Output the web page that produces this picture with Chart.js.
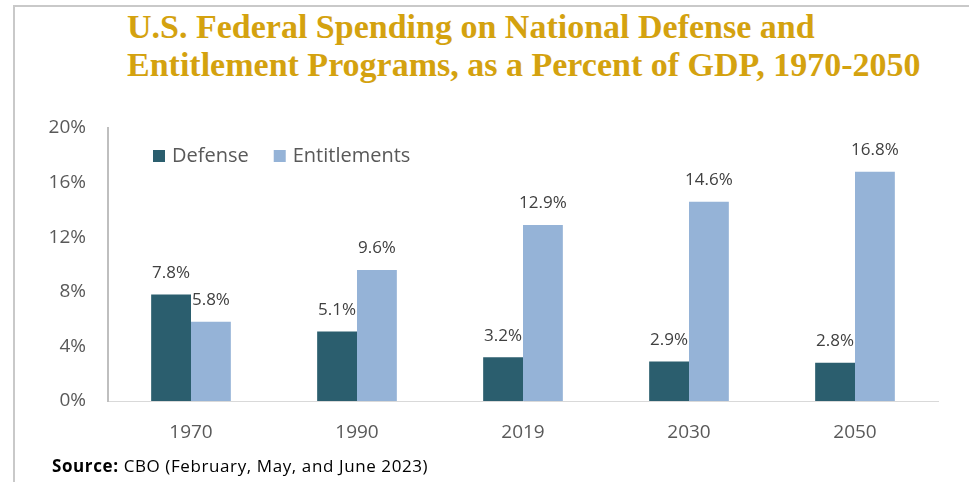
<!DOCTYPE html>
<html>
<head>
<meta charset="utf-8">
<script src="https://cdn.jsdelivr.net/npm/chart.js@4"></script>
<style>
  body { margin: 0; background: #fff; }
  #wrap { position: relative; width: 969px; height: 482px; overflow: hidden; }
  #frame { position: absolute; left: 13px; top: 5px; width: 960px; height: 480px;
           border-top: 2px solid #c9c9c9; border-left: 2px solid #c9c9c9; }
  #title { position: absolute; left: 127px; top: 8px; white-space: nowrap;
           font-family: "Liberation Serif", serif; font-weight: bold; font-size: 34px;
           line-height: 38px; color: #D4A20F; }
  #source { position: absolute; left: 52px; top: 454px; font-family: "Open Sans", sans-serif;
            font-size: 17px; letter-spacing: 0.6px; color: #000; }
  canvas { position: absolute; left: 0; top: 0; }
</style>
</head>
<body>
<div id="wrap">
  <div id="frame"></div>
  <div id="title">U.S. Federal Spending on National Defense and<br>Entitlement Programs, as a Percent of GDP, 1970-2050</div>
  <canvas id="chart" width="969" height="482"></canvas>
  <div id="source"><b>Source:</b> CBO (February, May, and June 2023)</div>
</div>
<script>
document.addEventListener('DOMContentLoaded', () => {
    // Data
    const years = ['1970', '1990', '2019', '2030', '2050'];
    const defense = [7.8, 5.1, 3.2, 2.9, 2.8];
    const entitlements = [5.8, 9.6, 12.9, 14.6, 16.8];
    const yTicks = [0, 4, 8, 12, 16, 20];

    const defenseColor = '#2B5E6E';
    const entitlementsColor = '#95B3D7';
    const font = '"Open Sans", sans-serif';

    // value labels above each bar
    const barLabels = {
        id: 'barLabels',
        afterDatasetsDraw(chart) {
            const ctx = chart.ctx;
            ctx.save();
            ctx.font = '17px ' + font;
            ctx.fillStyle = '#404040';
            ctx.textAlign = 'center';
            ctx.textBaseline = 'bottom';
            chart.data.datasets.forEach((ds, i) => {
                chart.getDatasetMeta(i).data.forEach((bar, j) => {
                    ctx.fillText(ds.data[j].toFixed(1) + '%', bar.x, bar.y - 13);
                });
            });
            ctx.restore();
        }
    };

    // legend drawn inside the plot area, top left
    const innerLegend = {
        id: 'innerLegend',
        afterDraw(chart) {
            const ctx = chart.ctx;
            ctx.save();
            ctx.font = '20px ' + font;
            ctx.textBaseline = 'middle';
            let x = 153;
            const y = 156;
            chart.data.datasets.forEach(ds => {
                ctx.fillStyle = ds.backgroundColor;
                ctx.fillRect(x, y - 6, 12, 12);
                ctx.fillStyle = '#595959';
                ctx.fillText(ds.label, x + 19, y);
                x += 19 + ctx.measureText(ds.label).width + 25;
            });
            ctx.restore();
        }
    };

    new Chart(document.getElementById('chart'), {
        type: 'bar',
        data: {
            labels: years,
            datasets: [
                { label: 'Defense', data: defense, backgroundColor: defenseColor },
                { label: 'Entitlements', data: entitlements, backgroundColor: entitlementsColor }
            ]
        },
        options: {
            responsive: false,
            animation: false,
            datasets: { bar: { barPercentage: 1, categoryPercentage: 0.48 } },
            layout: { padding: { top: 128, right: 31, left: 0, bottom: 0 } },
            plugins: { legend: { display: false }, tooltip: { enabled: false } },
            scales: {
                x: {
                    grid: { display: false, drawTicks: false },
                    border: { color: '#d9d9d9', width: 1 },
                    ticks: { color: '#595959', font: { family: font, size: 19 }, padding: 20 },
                    afterFit: s => { s.height = 81; }
                },
                y: {
                    min: 0,
                    max: 20,
                    afterBuildTicks: s => { s.ticks = yTicks.map(v => ({ value: v })); },
                    grid: { display: false, drawTicks: false },
                    border: { color: '#bfbfbf', width: 2 },
                    ticks: {
                        color: '#595959',
                        font: { family: font, size: 19 },
                        padding: 22,
                        callback: v => v + '%'
                    },
                    afterFit: s => { s.width = 108; }
                }
            }
        },
        plugins: [barLabels, innerLegend]
    });
});
</script>
</body>
</html>
